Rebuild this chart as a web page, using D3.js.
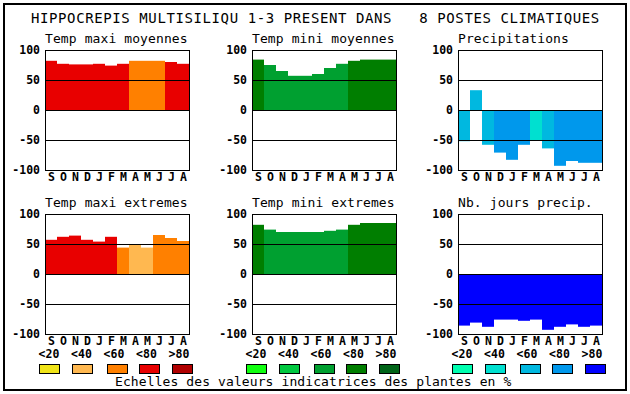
<!DOCTYPE html>
<html>
  <head>
    <meta charset="utf-8">
    <title>Hippocrepis</title>
    <script src="https://d3js.org/d3.v7.min.js"></script>
    <style>
      body { margin: 0; background: #fff; }
      text { font-family: "DejaVu Sans Mono", monospace; fill: #000; }
    </style>
  </head>
  <body>
    <script>
      var width = 630;
      var height = 394;

      // donnees
      var months = ["S", "O", "N", "D", "J", "F", "M", "A", "M", "J", "J", "A"];
      var yTicks = [100, 50, 0, -50, -100];
      var classLabels = ["<20", "<40", "<60", "<80", ">80"];

      var tempColors = ["#f0e418", "#ffb850", "#ff8000", "#e80000", "#b00000"];
      var miniColors = ["#10ff10", "#00c840", "#00a030", "#007e00", "#006418"];
      var precColors = ["#00ffb0", "#00e0d0", "#00b8e0", "#0098ec", "#0000ff"];

      var maxiMoyValues = [82, 77, 76, 76, 77, 74, 77, 82, 82, 82, 80, 77];
      var maxiMoyClass  = [3, 3, 3, 3, 3, 3, 3, 2, 2, 2, 3, 3];
      var miniMoyValues = [84, 75, 65, 57, 57, 60, 70, 77, 82, 84, 84, 84];
      var miniMoyClass  = [3, 2, 2, 2, 2, 2, 2, 2, 3, 3, 3, 3];
      var precValues    = [-52, 33, -58, -71, -83, -58, -50, -64, -93, -85, -88, -88];
      var precClass     = [2, 2, 2, 3, 3, 3, 1, 2, 3, 3, 3, 3];
      var maxiExtValues = [57, 62, 64, 57, 54, 62, 44, 49, 44, 65, 60, 55];
      var maxiExtClass  = [3, 3, 3, 3, 3, 3, 2, 1, 1, 2, 2, 2];
      var miniExtValues = [82, 74, 70, 70, 70, 70, 72, 74, 82, 85, 85, 85];
      var miniExtClass  = [3, 2, 2, 2, 2, 2, 2, 2, 3, 3, 3, 3];
      var joursValues   = [-86, -81, -88, -76, -76, -78, -76, -93, -88, -84, -88, -86];
      var joursClass    = [4, 4, 4, 4, 4, 4, 4, 4, 4, 4, 4, 4];

      var panels = [
        {title: "Temp maxi moyennes", values: maxiMoyValues, cls: maxiMoyClass, colors: tempColors, col: 0, row: 0},
        {title: "Temp mini moyennes", values: miniMoyValues, cls: miniMoyClass, colors: miniColors, col: 1, row: 0},
        {title: "Precipitations", values: precValues, cls: precClass, colors: precColors, col: 2, row: 0},
        {title: "Temp maxi extremes", values: maxiExtValues, cls: maxiExtClass, colors: tempColors, col: 0, row: 1},
        {title: "Temp mini extremes", values: miniExtValues, cls: miniExtClass, colors: miniColors, col: 1, row: 1},
        {title: "Nb. jours precip.", values: joursValues, cls: joursClass, colors: precColors, col: 2, row: 1}
      ];

      var svg = d3.select("body").append("svg").attr("width", width).attr("height", height);

      // cadre
      svg.append("rect")
        .attr("x", 4).attr("y", 4).attr("width", 622).attr("height", 386)
        .attr("fill", "none").attr("stroke", "#000").attr("stroke-width", 2);

      svg.append("text")
        .attr("x", 31).attr("y", 23)
        .style("font-size", "14px")
        .style("letter-spacing", "0.6px")
        .attr("xml:space", "preserve")
        .text("HIPPOCREPIS MULTISILIQU 1-3 PRESENT DANS   8 POSTES CLIMATIQUES");

      var colLeft = [45, 252, 458];
      var rowTop = [50, 214];
      var plotW = 144, plotH = 120;

      panels.forEach(function(p) {
        var x0 = colLeft[p.col], y0 = rowTop[p.row];
        var g = svg.append("g").attr("transform", "translate(" + x0 + "," + y0 + ")");

        var xScale = d3.scaleBand().domain(d3.range(12)).range([0, plotW]).padding(0);
        var yScale = d3.scaleLinear().domain([-100, 100]).range([plotH, 0]);

        g.append("text")
          .attr("x", 0).attr("y", -7)
          .style("font-size", "13px")
          .style("letter-spacing", "0.1px")
          .text(p.title);

        g.selectAll("rect.bar")
          .data(p.values)
          .enter()
          .append("rect")
          .attr("class", "bar")
          .attr("x", (d, i) => xScale(i))
          .attr("width", xScale.bandwidth())
          .attr("y", (d) => yScale(Math.max(d, 0)))
          .attr("height", (d) => Math.abs(yScale(d) - yScale(0)))
          .attr("fill", (d, i) => p.colors[p.cls[i]]);

        // lignes 50, 0, -50
        g.selectAll("line.grid")
          .data([50, 0, -50])
          .enter()
          .append("line")
          .attr("x1", 0).attr("x2", plotW)
          .attr("y1", (d) => Math.round(yScale(d)) + 0.5)
          .attr("y2", (d) => Math.round(yScale(d)) + 0.5)
          .attr("stroke", "#000").attr("stroke-width", 1);

        g.append("rect")
          .attr("x", 0.5).attr("y", 0.5).attr("width", plotW).attr("height", plotH)
          .attr("fill", "none").attr("stroke", "#000").attr("stroke-width", 1);

        g.selectAll("text.tick")
          .data(yTicks)
          .enter()
          .append("text")
          .attr("x", -5)
          .attr("y", (d) => yScale(d) + 4)
          .attr("text-anchor", "end")
          .style("font-size", "11.5px")
          .style("font-weight", "bold")
          .text((d) => d);

        g.selectAll("text.month")
          .data(months)
          .enter()
          .append("text")
          .attr("x", (d, i) => xScale(i) + xScale.bandwidth() / 2 + 0.5)
          .attr("y", plotH + 11)
          .attr("text-anchor", "middle")
          .style("font-size", "11.5px")
          .style("font-weight", "bold")
          .text((d) => d);

        if (p.row === 1) {
          var lg = svg.append("g").attr("transform", "translate(" + (x0 - 6) + ",0)");
          lg.selectAll("text.cls")
            .data(classLabels)
            .enter()
            .append("text")
            .attr("x", (d, i) => 10 + i * 32.5)
            .attr("y", 358)
            .attr("text-anchor", "middle")
            .style("font-size", "11.5px")
            .style("font-weight", "bold")
            .text((d) => d);
          lg.selectAll("rect.sw")
            .data(p.colors)
            .enter()
            .append("rect")
            .attr("x", (d, i) => [0, 33, 68, 100, 133][i] + 0.5)
            .attr("y", 364.5)
            .attr("width", 20).attr("height", 9)
            .attr("fill", (d) => d)
            .attr("stroke", "#000").attr("stroke-width", 1);
        }
      });

      svg.append("text")
        .attr("x", 115).attr("y", 386)
        .style("font-size", "13px")
        .style("letter-spacing", "0.1px")
        .text("Echelles des valeurs indicatrices des plantes en %");
    </script>
  </body>
</html>
